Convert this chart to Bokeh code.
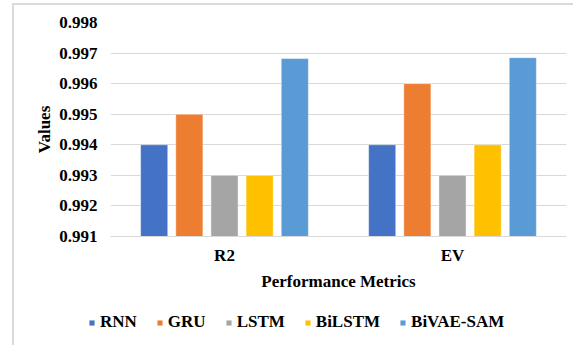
from bokeh.plotting import figure
from bokeh.layouts import column
from bokeh.models import (ColumnDataSource, FactorRange, FixedTicker, NumeralTickFormatter,
                          Legend, LegendItem)
from bokeh.transform import dodge
from bokeh.embed import file_html
from bokeh.resources import INLINE

metrics = ["R2", "EV"]
models = ["RNN", "GRU", "LSTM", "BiLSTM", "BiVAE-SAM"]
rnn = [0.994, 0.994]
gru = [0.995, 0.996]
lstm = [0.993, 0.993]
bilstm = [0.993, 0.994]
bivae_sam = [0.99682, 0.99685]
colors = ["#4472C4", "#ED7D31", "#A5A5A5", "#FFC000", "#5B9BD5"]
y_ticks = [0.991, 0.992, 0.993, 0.994, 0.995, 0.996, 0.997, 0.998]

series = [rnn, gru, lstm, bilstm, bivae_sam]
data = {"metric": metrics}
for name, vals in zip(models, series):
    data[name] = vals
src = ColumnDataSource(data)

FONT = "'Liberation Serif', 'Times New Roman', serif"
BORDER = "2px solid #d9d9d9"

# ---------------- main chart ----------------
p = figure(width=561, height=302, x_range=FactorRange(*metrics), y_range=(0.991, 0.998),
           output_backend="svg", toolbar_location=None,
           min_border_left=96, min_border_right=9, min_border_top=17, min_border_bottom=71)
p.frame_align = False
p.margin = (3, 0, 0, 12)
p.styles = {"border-left": BORDER, "border-top": BORDER, "box-sizing": "border-box"}
p.outline_line_color = None
p.background_fill_color = "white"
p.border_fill_color = "white"

step = 0.1542
width = 0.119
for i, (name, col) in enumerate(zip(models, colors)):
    p.vbar(x=dodge("metric", (i - 2) * step, range=p.x_range), top=name, bottom=0.991,
           width=width, source=src, fill_color=col, line_color="white", line_alpha=0.45,
           line_width=1)

p.yaxis.ticker = FixedTicker(ticks=y_ticks)
p.yaxis.formatter = NumeralTickFormatter(format="0.000")
p.yaxis.axis_line_color = None
p.yaxis.major_tick_line_color = None
p.yaxis.minor_tick_line_color = None
p.yaxis.major_label_standoff = 7
p.yaxis.axis_label = "Values"
p.yaxis.axis_label_standoff = 2

p.xaxis.axis_line_color = "#d9d9d9"
p.xaxis.major_tick_line_color = None
p.xaxis.minor_tick_line_color = None
p.xaxis.major_label_standoff = 3
p.xaxis.axis_label = "Performance Metrics"
p.xaxis.axis_label_standoff = 4

for ax in (p.xaxis, p.yaxis):
    ax.major_label_text_font = FONT
    ax.major_label_text_font_style = "bold"
    ax.major_label_text_font_size = "17px"
    ax.major_label_text_color = "black"
    ax.axis_label_text_font = FONT
    ax.axis_label_text_font_style = "bold"
    ax.axis_label_text_font_size = "17px"
    ax.axis_label_text_color = "black"

p.xgrid.grid_line_color = None
p.ygrid.grid_line_color = "#d9d9d9"
p.ygrid.grid_line_width = 1

# ---------------- legend strip ----------------
q = figure(width=561, height=40, output_backend="svg", toolbar_location=None,
           x_axis_location=None, y_axis_location=None,
           min_border_left=0, min_border_right=0, min_border_top=0, min_border_bottom=0)
q.frame_align = False
q.margin = (0, 0, 0, 12)
q.styles = {"border-left": BORDER, "box-sizing": "border-box"}
q.outline_line_color = None
q.xgrid.grid_line_color = None
q.ygrid.grid_line_color = None
items = []
for name, col in zip(models, colors):
    # zero-height placeholder bar that only supplies the legend swatch
    r = q.vbar(x=[0], top=[0], bottom=[0], width=0.0, fill_color=col, line_color="white",
               line_alpha=0.45, line_width=1)
    items.append(LegendItem(label=name, renderers=[r]))

legend = Legend(items=items, orientation="horizontal", location=(74, 13),
                glyph_width=7, glyph_height=7, label_standoff=5, spacing=19,
                padding=0, margin=0, border_line_color=None, background_fill_alpha=0,
                label_text_font=FONT, label_text_font_style="bold",
                label_text_font_size="17px", label_text_color="black", label_height=20)
q.add_layout(legend, "center")

layout = column(p, q, spacing=0)
open("out.html", "w").write(file_html(layout, INLINE))
